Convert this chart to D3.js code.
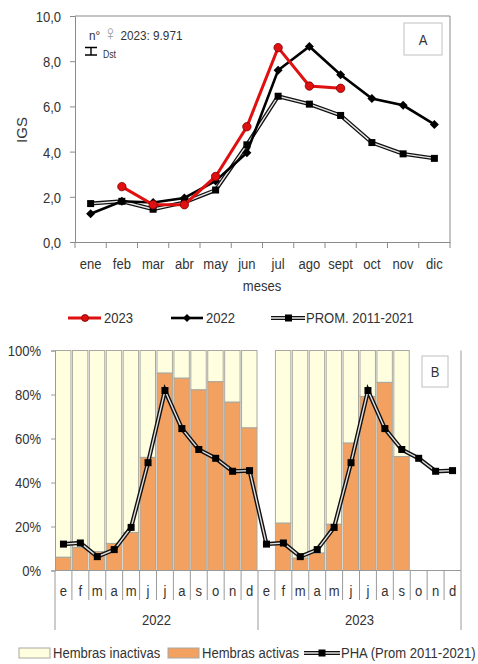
<!DOCTYPE html>
<html><head><meta charset="utf-8">
<script src="https://cdn.jsdelivr.net/npm/d3@7/dist/d3.min.js"></script>
<style>
body{margin:0;background:#fff;}
svg text{font-family:"Liberation Sans Narrow","Arial Narrow","Liberation Sans",Arial,sans-serif;fill:#333;}
</style></head>
<body><svg id="c" width="478" height="664"></svg>
<script>
// ---------- DATA ----------
const months = ["ene","feb","mar","abr","may","jun","jul","ago","sept","oct","nov","dic"];
const igs2023 = [null,2.45,1.65,1.65,2.9,5.1,8.6,6.9,6.8,null,null,null];
const igs2022 = [1.25,1.8,1.75,1.95,2.7,3.95,7.6,8.65,7.4,6.35,6.05,5.2];
const igsProm = [1.7,1.8,1.45,1.75,2.3,4.3,6.45,6.1,5.6,4.4,3.9,3.7];
const igsTicks = [0,2,4,6,8,10];

const monthLetters = ["e","f","m","a","m","j","j","a","s","o","n","d"];
const years = ["2022","2023"];
const activas2022 = [6,10.5,8.5,12.3,17.3,51.4,89.7,87.4,82.1,85.8,76.5,64.8];
const activas2023 = [null,21.5,5.6,7.9,21,57.9,79.1,85.5,51.8,null,null,null];
const phaProm = [12,12.5,6.3,9.5,19.6,49,81.8,64.5,55,51,45.1,45.4];
const pctTicks = [0,20,40,60,80,100];

const svg = d3.select("#c");
const fmt = d => d3.format(".1f")(d).replace(".",",");

// ---------- CHART A ----------
const xA = d3.scaleBand().domain(months).range([75,450]);
const yA = d3.scaleLinear().domain([0,10]).range([242,16]);
const gA = svg.append("g");
gA.append("line").attr("x1",75).attr("x2",450).attr("y1",yA(10)).attr("y2",yA(10)).attr("stroke","#8a8a8a");
gA.append("line").attr("x1",450).attr("x2",450).attr("y1",yA(10)).attr("y2",yA(0)).attr("stroke","#8a8a8a");
const axL = gA.append("g").attr("transform","translate(75,0)")
  .call(d3.axisLeft(yA).tickValues(igsTicks).tickFormat(fmt).tickSize(5).tickPadding(9));
const axB = gA.append("g").attr("transform","translate(0,242)")
  .call(d3.axisBottom(xA).tickSize(0).tickPadding(16));
gA.selectAll(".bt").data(d3.range(13)).join("line")
  .attr("x1",i=>75+i*xA.bandwidth()).attr("x2",i=>75+i*xA.bandwidth())
  .attr("y1",242).attr("y2",248).attr("stroke","#8a8a8a");
[axL,axB].forEach(a=>{a.select(".domain").attr("stroke","#8a8a8a");a.selectAll(".tick line").attr("stroke","#8a8a8a");a.selectAll("text").style("font-size","15px").attr("fill","#333");});
axL.selectAll("text").attr("dy","0.36em");
gA.append("text").attr("x",262).attr("y",291).attr("text-anchor","middle").style("font-size","15px").text("meses");
gA.append("text").attr("class","noscale").attr("transform","translate(27,130) rotate(-90)").attr("text-anchor","middle").style("font-size","15px").text("IGS");
const ann = gA.append("text").attr("x",89).attr("y",40).style("font-size","13.5px");
ann.append("tspan").text("n° ");
ann.append("tspan").style("fill","#999").style("font-size","21px").text("♀");
ann.append("tspan").text(" 2023: 9.971");
gA.append("path").attr("d","M85,47.5H97M91,47.5V55M85,55H97").attr("stroke","#000").attr("stroke-width",1.4).attr("fill","none");
gA.append("text").attr("x",103).attr("y",58).style("font-size","10px").text("Dst");
gA.append("rect").attr("x",404).attr("y",23).attr("width",38).attr("height",32).attr("fill","#fff").attr("stroke","#c0c0c0");
gA.append("text").attr("x",423).attr("y",45).attr("text-anchor","middle").style("font-size","15px").attr("fill","#222").text("A");

const cx = m => xA(m)+xA.bandwidth()/2;
const lineA = d3.line().defined(d=>d.v!=null).x(d=>cx(d.m)).y(d=>yA(d.v));
const toPts = arr => months.map((m,i)=>({m,v:arr[i]}));
gA.append("path").datum(toPts(igsProm)).attr("d",lineA).attr("fill","none").attr("stroke","#111").attr("stroke-width",4);
gA.append("path").datum(toPts(igsProm)).attr("d",lineA).attr("fill","none").attr("stroke","#e8e8e8").attr("stroke-width",1.4);
gA.selectAll(".sq").data(toPts(igsProm)).join("rect")
  .attr("x",d=>cx(d.m)-3.5).attr("y",d=>yA(d.v)-3.5).attr("width",7).attr("height",7).attr("fill","#000");
gA.append("path").datum(toPts(igs2022)).attr("d",lineA).attr("fill","none").attr("stroke","#000").attr("stroke-width",2.6);
gA.selectAll(".dm").data(toPts(igs2022)).join("path")
  .attr("d",d=>{const x=cx(d.m),y=yA(d.v);return `M${x},${y-4.5}L${x+4.5},${y}L${x},${y+4.5}L${x-4.5},${y}Z`;}).attr("fill","#000");
gA.append("path").datum(toPts(igs2023)).attr("d",lineA).attr("fill","none").attr("stroke","#e01010").attr("stroke-width",3);
gA.selectAll(".ci").data(toPts(igs2023).filter(d=>d.v!=null)).join("circle")
  .attr("cx",d=>cx(d.m)).attr("cy",d=>yA(d.v)).attr("r",4.2).attr("fill","#e01010").attr("stroke","#7a0000").attr("stroke-width",0.8);

// ---------- LEGEND A ----------
const lg = svg.append("g");
const ly = 318;
lg.append("line").attr("x1",68).attr("x2",101).attr("y1",ly).attr("y2",ly).attr("stroke","#e01010").attr("stroke-width",3);
lg.append("circle").attr("cx",85).attr("cy",ly).attr("r",3.5).attr("fill","#e01010").attr("stroke","#7a0000").attr("stroke-width",0.8);
lg.append("text").attr("x",104).attr("y",ly+5.5).style("font-size","15px").text("2023");
lg.append("line").attr("x1",171).attr("x2",203).attr("y1",ly).attr("y2",ly).attr("stroke","#000").attr("stroke-width",2.6);
lg.append("path").attr("d",`M187,${ly-4}L191,${ly}L187,${ly+4}L183,${ly}Z`).attr("fill","#000");
lg.append("text").attr("x",206).attr("y",ly+5.5).style("font-size","15px").text("2022");
lg.append("line").attr("x1",271).attr("x2",305).attr("y1",ly).attr("y2",ly).attr("stroke","#111").attr("stroke-width",4);
lg.append("line").attr("x1",271).attr("x2",305).attr("y1",ly).attr("y2",ly).attr("stroke","#e8e8e8").attr("stroke-width",1.4);
lg.append("rect").attr("x",285).attr("y",ly-3.5).attr("width",7).attr("height",7).attr("fill","#000");
lg.append("text").attr("x",306).attr("y",ly+5.5).style("font-size","15px").text("PROM. 2011-2021");

// ---------- CHART B ----------
const keys = [];
years.forEach(y=>monthLetters.forEach((m,i)=>keys.push(y+"-"+i)));
const activas = activas2022.concat(activas2023);
const pha = phaProm.concat(phaProm);
const xB = d3.scaleBand().domain(keys).range([55,461]);
const yB = d3.scaleLinear().domain([0,100]).range([570.5,350.5]);
const bw = xB.bandwidth();
const gB = svg.append("g");
gB.append("line").attr("x1",461).attr("x2",461).attr("y1",yB(100)).attr("y2",yB(0)).attr("stroke","#9a9a9a");
const barData = keys.map((k,i)=>({k,a:activas[i]})).filter(d=>d.a!=null);
gB.selectAll(".bi").data(barData).join("rect")
  .attr("x",d=>xB(d.k)+0.5).attr("width",bw-1.5).attr("y",yB(100)).attr("height",d=>yB(d.a)-yB(100))
  .attr("fill","#ffffe0").attr("stroke","#a8a8a0").attr("stroke-width",1);
gB.selectAll(".ba").data(barData).join("rect")
  .attr("x",d=>xB(d.k)+0.5).attr("width",bw-1.5).attr("y",d=>yB(d.a)).attr("height",d=>yB(0)-yB(d.a))
  .attr("fill","#f2a160").attr("stroke","#a8a8a0").attr("stroke-width",1);
const axBL = gB.append("g").attr("transform","translate(55,0)")
  .call(d3.axisLeft(yB).tickValues(pctTicks).tickFormat(d=>d+"%").tickSize(4).tickPadding(10));
axBL.select(".domain").attr("stroke","#9a9a9a");
axBL.selectAll(".tick line").attr("stroke","#9a9a9a");
axBL.selectAll("text").style("font-size","15px").attr("fill","#333").attr("dy","0.36em");
gB.append("line").attr("x1",55).attr("x2",461).attr("y1",yB(0)).attr("y2",yB(0)).attr("stroke","#9a9a9a");
gB.selectAll(".sep").data(d3.range(25)).join("line")
  .attr("x1",i=>55+i*bw).attr("x2",i=>55+i*bw)
  .attr("y1",yB(0)).attr("y2",i=>(i%12===0)?630:600).attr("stroke","#9a9a9a");
gB.selectAll(".ml").data(keys).join("text")
  .attr("x",k=>xB(k)+bw/2).attr("y",596).attr("text-anchor","middle").style("font-size","15px")
  .text(k=>monthLetters[+k.split("-")[1]]);
gB.selectAll(".yl").data(years).join("text")
  .attr("x",(y,i)=>55+(i*12+6)*bw).attr("y",625).attr("text-anchor","middle").style("font-size","15px").text(d=>d);
gB.append("rect").attr("x",422).attr("y",356).attr("width",26).attr("height",31).attr("fill","#fff").attr("stroke","#c0c0c0");
gB.append("text").attr("x",435).attr("y",377).attr("text-anchor","middle").style("font-size","15px").attr("fill","#222").text("B");
const lineB = d3.line().x(d=>xB(d.k)+bw/2).y(d=>yB(d.v));
const phaPts = keys.map((k,i)=>({k,v:pha[i]}));
gB.append("path").datum(phaPts).attr("d",lineB).attr("fill","none").attr("stroke","#111").attr("stroke-width",4.2);
gB.append("path").datum(phaPts).attr("d",lineB).attr("fill","none").attr("stroke","#e0e0e0").attr("stroke-width",1.4);
gB.selectAll(".ps").data(phaPts).join("rect")
  .attr("x",d=>xB(d.k)+bw/2-3.5).attr("y",d=>yB(d.v)-3.5).attr("width",7).attr("height",7).attr("fill","#000");

// ---------- LEGEND B ----------
const lb = svg.append("g");
const by = 653;
lb.append("rect").attr("x",19).attr("y",by-5).attr("width",31).attr("height",10).attr("fill","#ffffe0").attr("stroke","#a8a8a0");
lb.append("text").attr("x",53).attr("y",by+5.5).style("font-size","15px").text("Hembras inactivas");
lb.append("rect").attr("x",168).attr("y",by-5).attr("width",31).attr("height",10).attr("fill","#f2a160").attr("stroke","#a8a8a0");
lb.append("text").attr("x",202).attr("y",by+5.5).style("font-size","15px").text("Hembras activas");
lb.append("line").attr("x1",304).attr("x2",340).attr("y1",by).attr("y2",by).attr("stroke","#111").attr("stroke-width",4.2);
lb.append("line").attr("x1",304).attr("x2",340).attr("y1",by).attr("y2",by).attr("stroke","#e0e0e0").attr("stroke-width",1.4);
lb.append("rect").attr("x",318.5).attr("y",by-3.5).attr("width",7).attr("height",7).attr("fill","#000");
lb.append("text").attr("x",341).attr("y",by+5.5).style("font-size","15px").text("PHA (Prom 2011-2021)");

// condense text horizontally (narrow face not installed)
svg.selectAll("text").each(function(){
  if(this.classList.contains("noscale")) return;
  const x = +(this.getAttribute("x")||0);
  const t = this.getAttribute("transform")||"";
  this.setAttribute("transform", `${t} translate(${x},0) scale(0.87,1) translate(${-x},0)`);
});
</script></body></html>
